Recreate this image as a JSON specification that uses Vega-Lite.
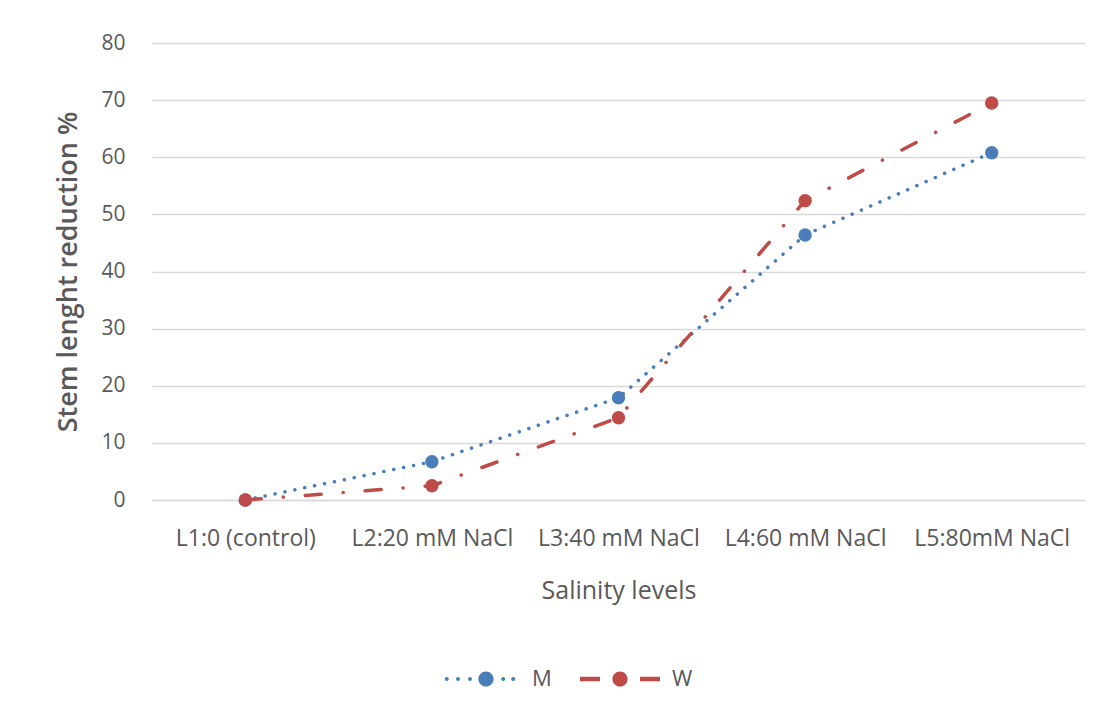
{
  "$schema": "https://vega.github.io/schema/vega-lite/v6.json",
  "width": 933,
  "height": 457,
  "autosize": {"type": "none"},
  "padding": {"left": 152, "top": 43, "right": 25, "bottom": 222},
  "background": "white",
  "config": {
    "font": "Open Sans",
    "view": {"stroke": null}
  },
  "data": {
    "values": [
      {"level": "L1:0 (control)", "series": "M", "value": 0},
      {"level": "L2:20 mM NaCl", "series": "M", "value": 6.7},
      {"level": "L3:40 mM NaCl", "series": "M", "value": 17.9},
      {"level": "L4:60 mM NaCl", "series": "M", "value": 46.4},
      {"level": "L5:80mM NaCl", "series": "M", "value": 60.8},
      {"level": "L1:0 (control)", "series": "W", "value": 0},
      {"level": "L2:20 mM NaCl", "series": "W", "value": 2.5},
      {"level": "L3:40 mM NaCl", "series": "W", "value": 14.4},
      {"level": "L4:60 mM NaCl", "series": "W", "value": 52.4},
      {"level": "L5:80mM NaCl", "series": "W", "value": 69.5}
    ]
  },
  "encoding": {
    "x": {
      "field": "level",
      "type": "nominal",
      "sort": null,
      "scale": {"type": "point", "padding": 0.5},
      "axis": {
        "title": "Salinity levels",
        "labelAngle": 0,
        "labelFontSize": 23,
        "labelColor": "#595959",
        "labelPadding": 27,
        "labelLimit": 300,
        "ticks": false,
        "grid": false,
        "domain": true,
        "domainColor": "#d9d9d9",
        "domainWidth": 1.5,
        "titleFontSize": 25,
        "titleFontWeight": "normal",
        "titleColor": "#595959",
        "titlePadding": 28
      }
    },
    "y": {
      "field": "value",
      "type": "quantitative",
      "scale": {"domain": [0, 80], "nice": false},
      "axis": {
        "values": [0, 10, 20, 30, 40, 50, 60, 70, 80],
        "title": "Stem lenght reduction %",
        "grid": true,
        "gridColor": "#d9d9d9",
        "gridWidth": 1.5,
        "domain": false,
        "ticks": false,
        "labelPadding": 27,
        "labelFontSize": 21,
        "labelColor": "#595959",
        "titleFontSize": 27,
        "titleFontWeight": 600,
        "titleColor": "#595959",
        "titlePadding": 18
      }
    },
    "color": {
      "field": "series",
      "type": "nominal",
      "scale": {"domain": ["M", "W"], "range": ["#4A7EBB", "#BE4B48"]},
      "legend": {
        "title": null,
        "orient": "none",
        "direction": "horizontal",
        "legendX": 288,
        "legendY": 596,
        "symbolSize": 6400,
        "labelFontSize": 22,
        "labelColor": "#595959",
        "labelOffset": 12,
        "columnPadding": 28,
        "encode": {
          "symbols": {
            "update": {
              "shape": {"signal": "datum.value === 'M' ? 'M-0.88,0A0.05,0.05 0 1,0 -0.78,0A0.05,0.05 0 1,0 -0.88,0Z M-0.6,0A0.05,0.05 0 1,0 -0.5,0A0.05,0.05 0 1,0 -0.6,0Z M-0.3,0A0.05,0.05 0 1,0 -0.2,0A0.05,0.05 0 1,0 -0.3,0Z M-0.04,0A0.19,0.19 0 1,0 0.34,0A0.19,0.19 0 1,0 -0.04,0Z M0.53,0A0.05,0.05 0 1,0 0.63,0A0.05,0.05 0 1,0 0.53,0Z M0.78,0A0.05,0.05 0 1,0 0.88,0A0.05,0.05 0 1,0 0.78,0Z' : 'M-1,-0.055H-0.5V0.055H-1Z M-0.19,0A0.19,0.19 0 1,0 0.19,0A0.19,0.19 0 1,0 -0.19,0Z M0.5,-0.055H1V0.055H0.5Z'"},
              "fill": {"signal": "datum.value === 'M' ? '#4A7EBB' : '#BE4B48'"},
              "strokeWidth": {"value": 0},
              "opacity": {"value": 1},
              "size": {"value": 6400}
            }
          }
        }
      }
    }
  },
  "layer": [
    {
      "mark": {"type": "line", "interpolate": "linear", "strokeWidth": 3.5, "strokeCap": "round"},
      "encoding": {
        "strokeDash": {
          "field": "series",
          "type": "nominal",
          "scale": {"domain": ["M", "W"], "range": [[0.1, 10], [16, 22, 0.1, 22]]},
          "legend": null
        }
      }
    },
    {
      "mark": {"type": "point", "filled": true, "shape": "circle", "size": 180, "opacity": 1}
    }
  ]
}
